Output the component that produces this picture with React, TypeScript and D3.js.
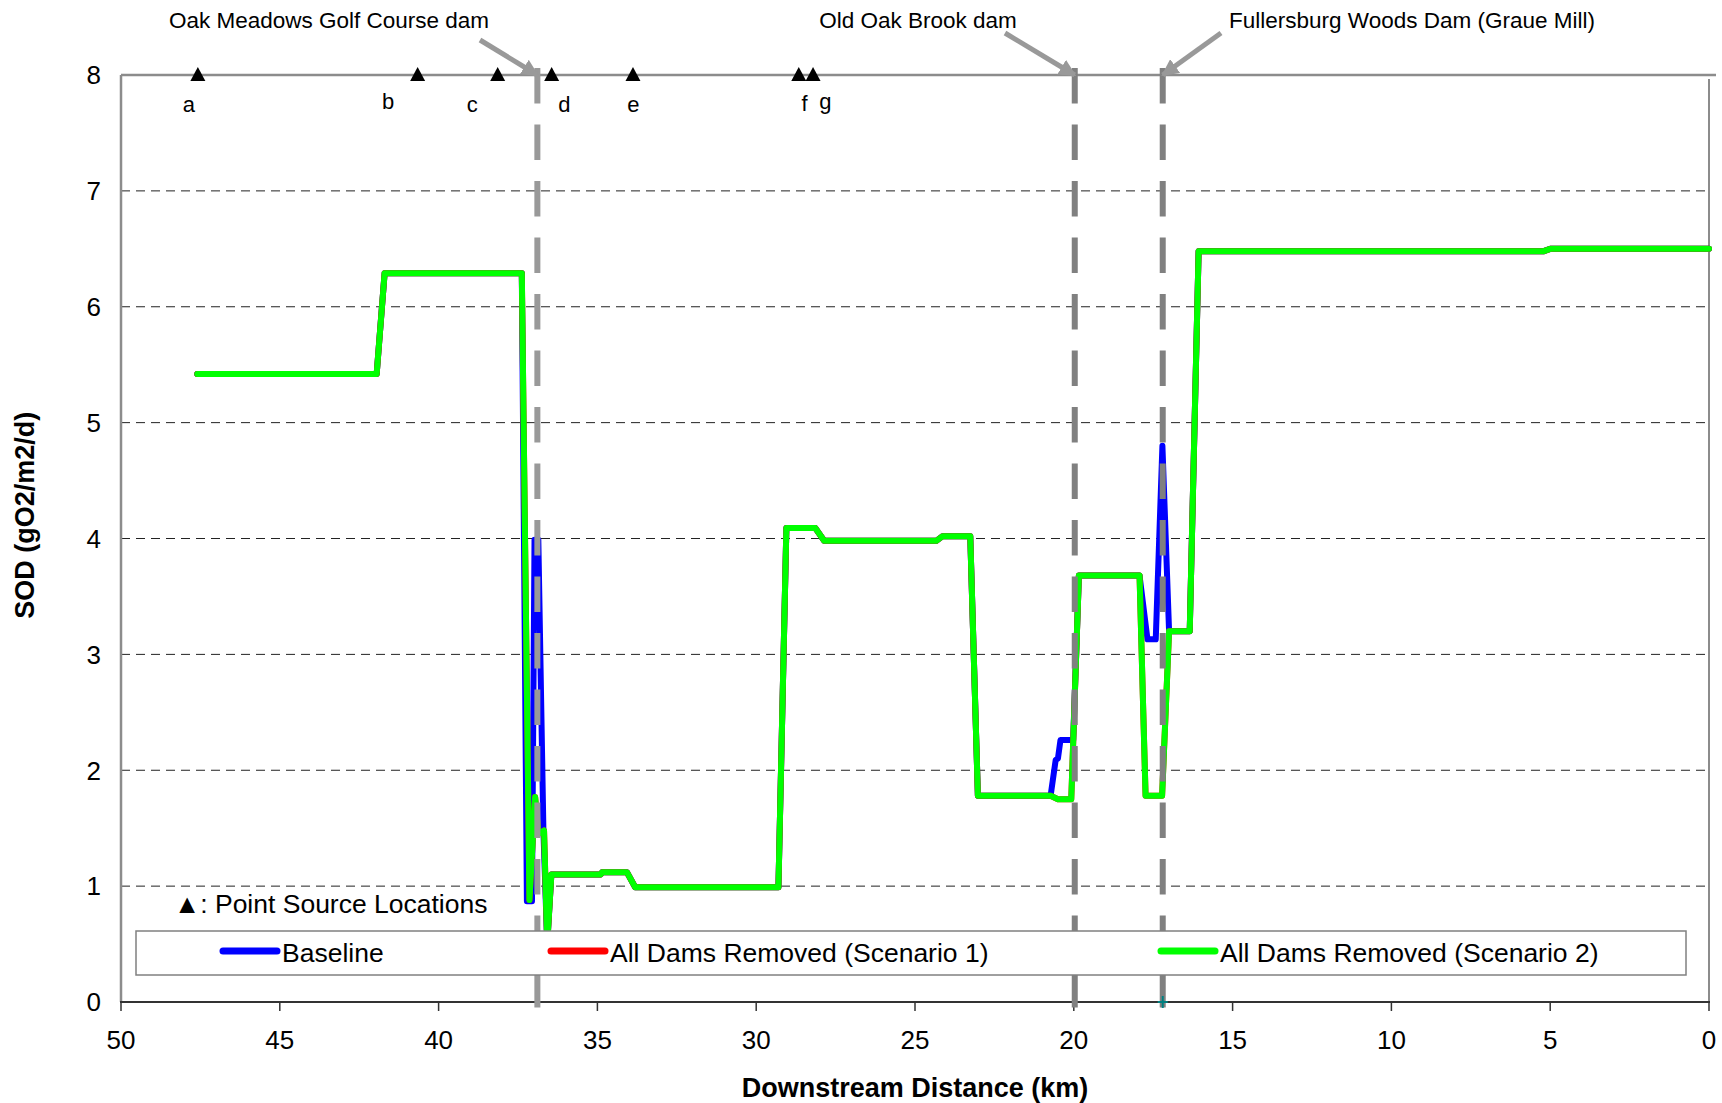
import React from 'react';
import * as d3 from 'd3';

// ---- data ----
const xTicks = [50, 45, 40, 35, 30, 25, 20, 15, 10, 5, 0];
const yTicks = [0, 1, 2, 3, 4, 5, 6, 7, 8];

// All Dams Removed (Scenario 2)
const scen2Km = [47.6, 41.95, 41.7, 37.38, 37.14, 36.96, 36.86, 36.68, 36.58, 36.45, 34.9, 34.85, 34.07, 33.81, 29.3, 29.05, 28.14, 27.86, 24.33, 24.13, 23.26, 23.02, 20.73, 20.5, 20.08, 19.84, 17.93, 17.74, 17.22, 17.0, 16.35, 16.07, 5.2, 5.0, 0];
const scen2Sod = [5.42, 5.42, 6.29, 6.29, 0.88, 1.77, 1.45, 1.48, 0.5, 1.10, 1.10, 1.12, 1.12, 0.99, 0.99, 4.09, 4.09, 3.98, 3.98, 4.02, 4.02, 1.78, 1.78, 1.75, 1.75, 3.68, 3.68, 1.78, 1.78, 3.2, 3.2, 6.48, 6.48, 6.50, 6.50];

// All Dams Removed (Scenario 1) – coincides with Scenario 2
const scen1Km = [47.6, 41.95, 41.7, 37.38, 37.14, 36.96, 36.86, 36.68, 36.58, 36.45, 34.9, 34.85, 34.07, 33.81, 29.3, 29.05, 28.14, 27.86, 24.33, 24.13, 23.26, 23.02, 20.73, 20.5, 20.08, 19.84, 17.93, 17.74, 17.22, 17.0, 16.35, 16.07, 5.2, 5.0, 0];
const scen1Sod = [5.42, 5.42, 6.29, 6.29, 0.88, 1.77, 1.45, 1.48, 0.5, 1.10, 1.10, 1.12, 1.12, 0.99, 0.99, 4.09, 4.09, 3.98, 3.98, 4.02, 4.02, 1.78, 1.78, 1.75, 1.75, 3.68, 3.68, 1.78, 1.78, 3.2, 3.2, 6.48, 6.48, 6.50, 6.50];

// Baseline
const baseKm = [47.6, 41.95, 41.7, 37.38, 37.22, 37.06, 36.98, 36.86, 36.70, 36.58, 36.45, 34.9, 34.85, 34.07, 33.81, 29.3, 29.05, 28.14, 27.86, 24.33, 24.13, 23.26, 23.02, 20.73, 20.57, 20.5, 20.42, 20.02, 19.84, 17.93, 17.68, 17.42, 17.21, 17.0, 16.35, 16.07, 5.2, 5.0, 0];
const baseSod = [5.42, 5.42, 6.29, 6.29, 0.87, 0.87, 3.99, 3.99, 1.48, 0.5, 1.10, 1.10, 1.12, 1.12, 0.99, 0.99, 4.09, 4.09, 3.98, 3.98, 4.02, 4.02, 1.78, 1.78, 2.09, 2.10, 2.26, 2.26, 3.68, 3.68, 3.13, 3.13, 4.8, 3.2, 3.2, 6.48, 6.48, 6.50, 6.50];

const seriesNames = ['Baseline', 'All Dams Removed (Scenario 1)', 'All Dams Removed (Scenario 2)'];

const damNames = ['Oak Meadows Golf Course dam', 'Old Oak Brook dam', 'Fullersburg Woods Dam (Graue Mill)'];
const damKm = [36.89, 19.97, 17.2];

const sourceLetters = ['a', 'b', 'c', 'd', 'e', 'f', 'g'];
const sourceKm = [47.58, 40.66, 38.14, 36.44, 33.88, 28.66, 28.21];
const sourceLabelKm = [47.86, 41.59, 38.94, 36.04, 33.87, 28.48, 27.82];

const FONT = '"Liberation Sans", Arial, Helvetica, sans-serif';

export default function App() {
  const W = 1722, H = 1103;
  const L = 121, R = 1709, T = 75, B = 1002;
  const x = d3.scaleLinear().domain([50, 0]).range([L, R]);
  const y = d3.scaleLinear().domain([0, 8]).range([B, T]);
  const line = d3.line<[number, number]>().x(d => x(d[0])).y(d => y(d[1]));
  const zip = (a: number[], b: number[]) => a.map((k, i) => [k, b[i]] as [number, number]);

  const series = [
    { name: seriesNames[0], d: zip(baseKm, baseSod), color: '#0000ff' },
    { name: seriesNames[1], d: zip(scen1Km, scen1Sod), color: '#ff0000' },
    { name: seriesNames[2], d: zip(scen2Km, scen2Sod), color: '#00ff00' },
  ];

  // annotation geometry (label centre, arrow start)
  const damLabel = [
    { tx: 329, ty: 28, ax: 480, ay: 40 },
    { tx: 918, ty: 28, ax: 1005, ay: 33 },
    { tx: 1412, ty: 28, ax: 1221, ay: 33 },
  ];
  const damColor = ['#999999', '#808080', '#808080'];
  const legendX = [223, 551, 1161];

  return (
    <div style={{ position: 'absolute', left: 0, top: 0 }}>
      <svg width={W} height={H} style={{ display: 'block', background: '#fff' }} fontFamily={FONT}>
        <defs>
          <marker id="ah" viewBox="0 0 10 10" refX="9" refY="5" markerWidth="3.4" markerHeight="3.4" orient="auto" markerUnits="strokeWidth">
            <path d="M0,0 L10,5 L0,10 Z" fill="#999" />
          </marker>
        </defs>

        {/* grid */}
        {yTicks.filter(t => t > 0 && t < 8).map(t => (
          <line key={t} x1={L} x2={R} y1={y(t)} y2={y(t)} stroke="#222" strokeWidth={1} strokeDasharray="9,6" />
        ))}

        {/* frame */}
        <line x1={L} x2={1716} y1={T} y2={T} stroke="#8c8c8c" strokeWidth={2.5} />
        <line x1={R} x2={R} y1={T + 4} y2={B} stroke="#8c8c8c" strokeWidth={2} />
        <line x1={L} x2={L} y1={T} y2={B} stroke="#8c8c8c" strokeWidth={2.5} />
        <line x1={L - 1} x2={R + 1} y1={B} y2={B} stroke="#333" strokeWidth={2} />
        {xTicks.map(t => (
          <line key={t} x1={x(t)} x2={x(t)} y1={B} y2={B + 9} stroke="#333" strokeWidth={1.5} />
        ))}

        {/* tick labels */}
        {yTicks.map(t => (
          <text key={t} x={101} y={y(t)} dy="0.36em" textAnchor="end" fontSize={26}>{t}</text>
        ))}
        {xTicks.map(t => (
          <text key={t} x={x(t)} y={1049} textAnchor="middle" fontSize={26}>{t}</text>
        ))}

        {/* axis titles */}
        <text x={x(25)} y={1097} textAnchor="middle" fontSize={27} fontWeight="bold">Downstream Distance (km)</text>
        <text transform={`translate(34,${y(4.2)}) rotate(-90)`} textAnchor="middle" fontSize={27} fontWeight="bold">SOD (gO2/m2/d)</text>

        {/* series */}
        {series.map(s => (
          <path key={s.name} d={line(s.d) || ''} fill="none" stroke={s.color} strokeWidth={6}
            strokeLinejoin="round" strokeLinecap="round" />
        ))}

        {/* dam lines */}
        {damKm.map((k, i) => (
          <line key={i} x1={x(k)} x2={x(k)} y1={68} y2={B + 10} stroke={damColor[i]} strokeWidth={6} strokeDasharray="35.5,21" />
        ))}

        {/* point sources */}
        {sourceKm.map((k, i) => (
          <path key={i} d={`M${x(k) - 7.5},${T + 6} L${x(k)},${T - 8} L${x(k) + 7.5},${T + 6} Z`} fill="#000" />
        ))}
        {sourceLetters.map((s, i) => (
          <text key={s} x={x(sourceLabelKm[i])} y={i === 1 || i === 6 ? 109 : i === 5 ? 111 : 112} textAnchor="middle" fontSize={22}>{s}</text>
        ))}

        {/* legend */}
        <rect x={136} y={931} width={1550} height={44} fill="#fff" stroke="#808080" strokeWidth={1.5} />
        {series.map((s, i) => (
          <g key={s.name}>
            <line x1={legendX[i]} x2={legendX[i] + 54} y1={951} y2={951} stroke={s.color} strokeWidth={7} strokeLinecap="round" />
            <text x={legendX[i] + 59} y={962} fontSize={26.5}>{s.name}</text>
          </g>
        ))}
        <text x={174} y={913} fontSize={26.5}>▲: Point Source Locations</text>

        {/* dam annotations */}
        {damNames.map((n, i) => (
          <g key={n}>
            <text x={damLabel[i].tx} y={damLabel[i].ty} textAnchor="middle" fontSize={22.5}>{n}</text>
            <line x1={damLabel[i].ax} y1={damLabel[i].ay} x2={x(damKm[i])} y2={T} stroke="#999" strokeWidth={5} markerEnd="url(#ah)" />
          </g>
        ))}

        {/* small marker on the axis */}
        <g stroke="#008080" strokeWidth={2}>
          <line x1={x(damKm[2]) - 5} x2={x(damKm[2]) + 5} y1={B} y2={B} />
          <line x1={x(damKm[2])} x2={x(damKm[2])} y1={B - 6} y2={B + 6} />
        </g>
      </svg>
    </div>
  );
}
